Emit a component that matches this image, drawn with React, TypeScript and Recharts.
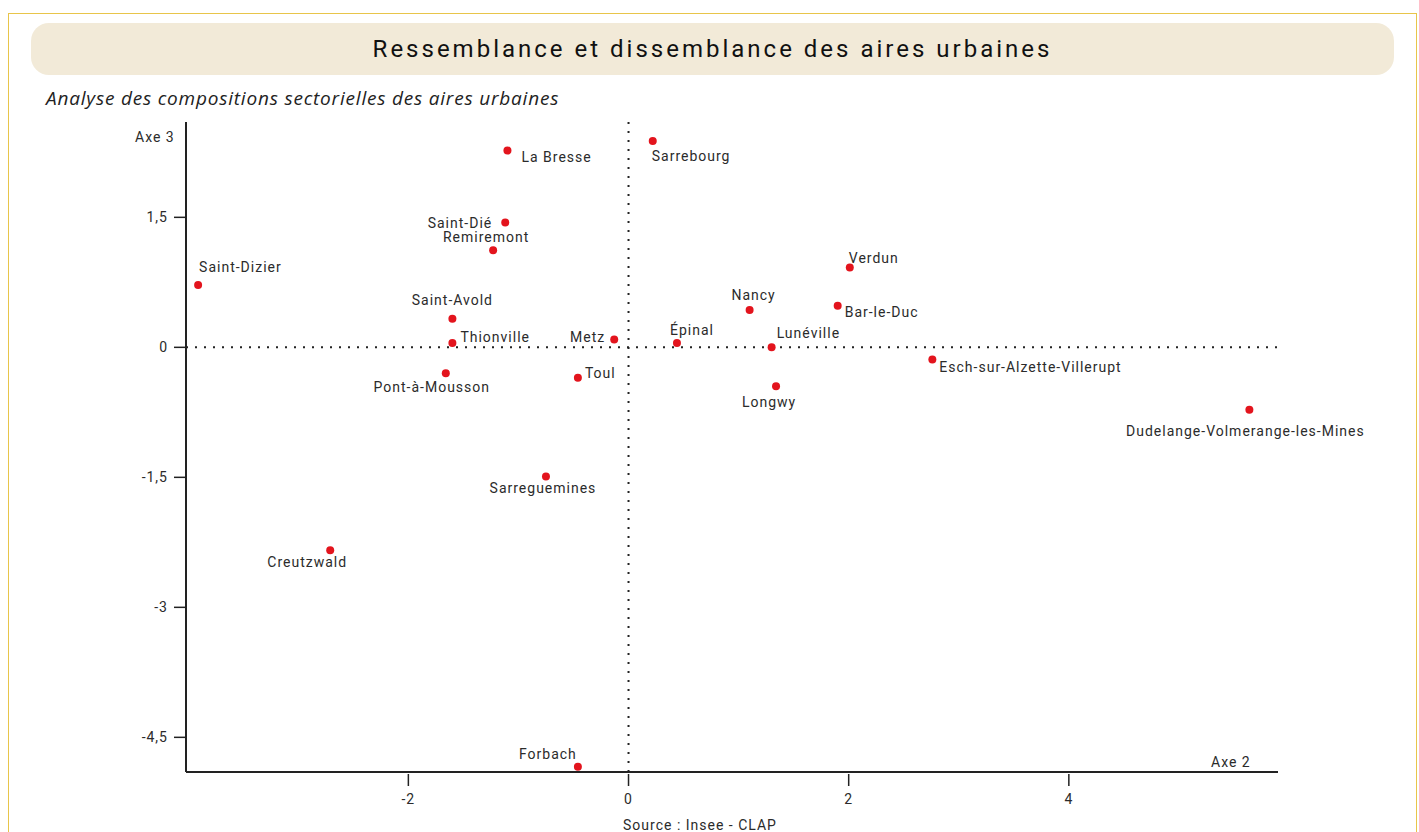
import React from "react";
import {
  ScatterChart,
  Scatter,
  XAxis,
  YAxis,
  ReferenceLine,
} from "recharts";

const cities = [
  "La Bresse",
  "Sarrebourg",
  "Saint-Dié",
  "Remiremont",
  "Saint-Dizier",
  "Saint-Avold",
  "Thionville",
  "Metz",
  "Pont-à-Mousson",
  "Toul",
  "Sarreguemines",
  "Creutzwald",
  "Forbach",
  "Épinal",
  "Nancy",
  "Lunéville",
  "Longwy",
  "Verdun",
  "Bar-le-Duc",
  "Esch-sur-Alzette-Villerupt",
  "Dudelange-Volmerange-les-Mines",
];

const axe2 = [
  -1.1, 0.22, -1.12, -1.23, -3.91, -1.6, -1.6, -0.13, -1.66, -0.46, -0.75,
  -2.71, -0.46, 0.44, 1.1, 1.3, 1.34, 2.01, 1.9, 2.76, 5.64,
];

const axe3 = [
  2.27, 2.38, 1.44, 1.12, 0.72, 0.33, 0.05, 0.09, -0.3, -0.35, -1.49, -2.34,
  -4.84, 0.05, 0.43, 0.0, -0.45, 0.92, 0.48, -0.14, -0.72,
];

const xTicks = [-2, 0, 2, 4];
const yTicks = [1.5, 0, -1.5, -3, -4.5];

const title = "Ressemblance et dissemblance des aires urbaines";
const subtitle = "Analyse des compositions sectorielles des aires urbaines";
const source = "Source : Insee - CLAP";

// label placement (layout only): [dx, dy, anchor]
const labelPlacement: Record<string, [number, number, string]> = {
  "La Bresse": [14, 6, "start"],
  Sarrebourg: [-1, 15, "start"],
  "Saint-Dié": [-13, 0, "end"],
  Remiremont: [-7, -13, "middle"],
  "Saint-Dizier": [1, -18, "start"],
  "Saint-Avold": [0, -19, "middle"],
  Thionville: [8, -6, "start"],
  Metz: [-9, -3, "end"],
  "Pont-à-Mousson": [-14, 14, "middle"],
  Toul: [7, -5, "start"],
  Sarreguemines: [-3, 12, "middle"],
  Creutzwald: [-23, 12, "middle"],
  Forbach: [-30, -13, "middle"],
  "Épinal": [15, -13, "middle"],
  Nancy: [4, -15, "middle"],
  "Lunéville": [5, -14, "start"],
  Longwy: [-7, 16, "middle"],
  Verdun: [-1, -10, "start"],
  "Bar-le-Duc": [7, 6, "start"],
  "Esch-sur-Alzette-Villerupt": [7, 8, "start"],
  "Dudelange-Volmerange-les-Mines": [-4, 21, "middle"],
};

const data = cities.map((name, i) => ({ name, x: axe2[i], y: axe3[i] }));

const FONT = "Roboto, 'DejaVu Sans', sans-serif";
const TEXT = "#2b2b2b";
const FS = 14;
const LS = 1;

const fmt = (v: number) => String(v).replace(".", ",");

const PointShape = (props: any) => {
  const { cx, cy, payload } = props;
  const p = labelPlacement[payload.name] || [6, 0, "start"];
  return (
    <g>
      <circle cx={cx} cy={cy} r={4} fill="#e3141d" />
      <text
        x={cx + p[0]}
        y={cy + p[1]}
        textAnchor={p[2] as any}
        dominantBaseline="central"
        fontFamily={FONT}
        fontSize={FS}
        letterSpacing={LS}
        fill={TEXT}
      >
        {payload.name}
      </text>
    </g>
  );
};

const YTick = (props: any) => {
  const { x, y, payload } = props;
  return (
    <g>
      <line x1={x - 4} x2={x + 8} y1={y} y2={y} stroke="#222" strokeWidth={1.5} />
      <text
        x={x - 10}
        y={y}
        textAnchor="end"
        dominantBaseline="central"
        fontFamily={FONT}
        fontSize={FS}
        letterSpacing={LS}
        fill={TEXT}
      >
        {fmt(payload.value)}
      </text>
    </g>
  );
};

const XTick = (props: any) => {
  const { x, y, payload } = props;
  return (
    <g>
      <line x1={x} x2={x} y1={y - 6} y2={y + 6} stroke="#222" strokeWidth={1.5} />
      <text
        x={x}
        y={y + 19}
        textAnchor="middle"
        dominantBaseline="central"
        fontFamily={FONT}
        fontSize={FS}
        letterSpacing={LS}
        fill={TEXT}
      >
        {fmt(payload.value)}
      </text>
    </g>
  );
};

export default function App() {
  return (
    <div
      style={{
        position: "absolute",
        left: 0,
        top: 0,
        width: 1419,
        height: 832,
        background: "#fff",
        overflow: "hidden",
      }}
    >
      <div
        style={{
          position: "absolute",
          left: 8,
          top: 13,
          width: 1409,
          height: 840,
          border: "1.5px solid #e8c54a",
          boxSizing: "border-box",
        }}
      />
      <div
        style={{
          position: "absolute",
          left: 31,
          top: 23,
          width: 1363,
          height: 52,
          background: "#f2ead8",
          borderRadius: 18,
          display: "flex",
          alignItems: "center",
          justifyContent: "center",
          fontFamily: FONT,
          fontSize: 24,
          letterSpacing: 3,
          color: "#111",
        }}
      >
        {title}
      </div>
      <div
        style={{
          position: "absolute",
          left: 46,
          top: 85,
          fontFamily: "'Open Sans', sans-serif",
          fontStyle: "italic",
          fontSize: 19,
          letterSpacing: 0.8,
          color: "#222",
        }}
      >
        {subtitle}
      </div>
      <div
        style={{
          position: "absolute",
          left: 135,
          top: 129,
          fontFamily: FONT,
          fontSize: FS,
          letterSpacing: LS,
          color: TEXT,
        }}
      >
        Axe 3
      </div>
      <div
        style={{
          position: "absolute",
          left: 1211,
          top: 754,
          fontFamily: FONT,
          fontSize: FS,
          letterSpacing: LS,
          color: TEXT,
        }}
      >
        Axe 2
      </div>
      <div
        style={{
          position: "absolute",
          left: 0,
          width: 1400,
          top: 817,
          textAlign: "center",
          fontFamily: FONT,
          fontSize: FS,
          letterSpacing: LS,
          color: TEXT,
        }}
      >
        {source}
      </div>
      <div style={{ position: "absolute", left: 0, top: 0 }}>
        <ScatterChart
          width={1419}
          height={832}
          margin={{ top: 122, right: 141, bottom: 30, left: 126 }}
        >
          <XAxis
            type="number"
            dataKey="x"
            domain={[-4.02, 5.9]}
            ticks={xTicks}
            tick={<XTick />}
            tickLine={false}
            axisLine={{ stroke: "#222", strokeWidth: 2 }}
            height={30}
          />
          <YAxis
            type="number"
            dataKey="y"
            domain={[-4.9, 2.6]}
            ticks={yTicks}
            tick={<YTick />}
            tickLine={false}
            axisLine={{ stroke: "#222", strokeWidth: 2 }}
            width={60}
          />
          <ReferenceLine
            x={0}
            stroke="#222"
            strokeWidth={2}
            strokeDasharray="2 7"
          />
          <ReferenceLine
            y={0}
            stroke="#222"
            strokeWidth={2}
            strokeDasharray="2 7"
          />
          <Scatter
            data={data}
            shape={<PointShape />}
            isAnimationActive={false}
          />
        </ScatterChart>
      </div>
    </div>
  );
}
